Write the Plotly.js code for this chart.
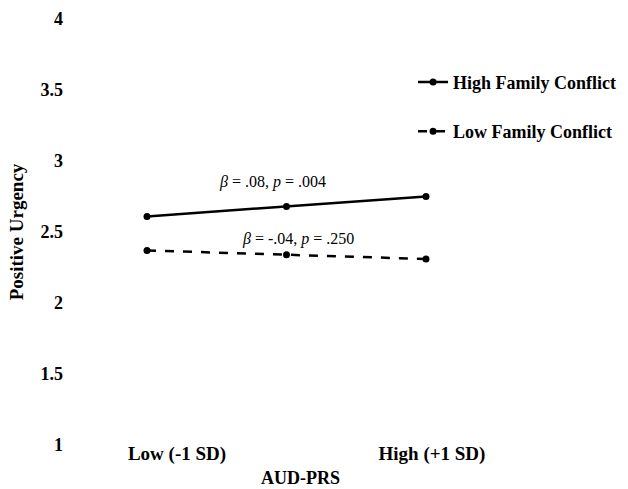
<!DOCTYPE html>
<html>
<head>
<meta charset="utf-8">
<script src="https://cdn.plot.ly/plotly-3.0.1.min.js"></script>
<style>html,body{margin:0;padding:0;background:#fff;}#chart{width:628px;height:489px;}</style>
</head>
<body>
<div id="chart"></div>
<script>
// Data
const xPositions = [0, 1, 2];
const seriesNames = ["High Family Conflict", "Low Family Conflict"];
const highConflict = [2.61, 2.68, 2.75];
const lowConflict = [2.37, 2.34, 2.31];
const xTickVals = [0.215, 2.043];
const xTickText = ["Low (-1 SD)", "High (+1 SD)"];
const yTickVals = [1, 1.5, 2, 2.5, 3, 3.5, 4];
const yTickText = ["1", "1.5", "2", "2.5", "3", "3.5", "4"];
const statLabels = ["<i>β</i> = .08, <i>p</i> = .004", "<i>β</i> = -.04, <i>p</i> = .250"];
const statX = [0.903, 1.082];
const statY = [2.85, 2.45];
const xTitle = "AUD-PRS";
const yTitle = "Positive Urgency";

const serif = "Liberation Serif, Times New Roman, serif";

const traces = [
  {x: xPositions, y: highConflict, name: seriesNames[0], type: "scatter", mode: "lines+markers",
   line: {color: "#000", width: 2.5}, marker: {color: "#000", size: 7}, legendgroup: "a"},
  {x: xPositions, y: lowConflict, name: seriesNames[1], type: "scatter", mode: "lines+markers",
   line: {color: "#000", width: 2.5, dash: "dash"}, marker: {color: "#000", size: 7}, legendgroup: "b"}
];

const layout = {
  width: 628, height: 489,
  margin: {l: 70, r: 2, t: 19, b: 44},
  paper_bgcolor: "#fff", plot_bgcolor: "#fff",
  font: {family: serif, color: "#000000"},
  showlegend: true,
  legend: {x: 0.617, y: 0.895, xanchor: "left", yanchor: "top",
    bgcolor: "rgba(0,0,0,0)",
    font: {family: serif, size: 18, color: "#000", weight: "bold"},
    traceorder: "grouped", tracegroupgap: 23, itemwidth: 30},
  xaxis: {range: [-0.552, 3.434], showgrid: false, zeroline: false, showline: false,
    automargin: false,
    tickmode: "array", tickvals: xTickVals, ticktext: xTickText, ticks: "",
    ticklabelstandoff: -5,
    tickfont: {family: serif, size: 19, color: "#000", weight: "bold"}},
  yaxis: {range: [1, 4], showgrid: false, zeroline: false, showline: false,
    automargin: false,
    tickmode: "array", tickvals: yTickVals, ticktext: yTickText, ticks: "",
    ticklabelstandoff: 6,
    tickfont: {family: serif, size: 18, color: "#000", weight: "bold"},
    title: {text: yTitle, standoff: 11, font: {family: serif, size: 19, color: "#000", weight: "bold"}}},
  annotations: [
    {x: statX[0], y: statY[0], xref: "x", yref: "y", text: statLabels[0], showarrow: false,
     font: {family: serif, size: 16, color: "#000000"}},
    {x: statX[1], y: statY[1], xref: "x", yref: "y", text: statLabels[1], showarrow: false,
     font: {family: serif, size: 16, color: "#000000"}},
    {x: 0.4137, y: -0.0775, xref: "paper", yref: "paper", text: "<b>" + xTitle + "</b>", showarrow: false,
     xanchor: "center", yanchor: "middle",
     font: {family: serif, size: 18, color: "#000000"}}
  ]
};

Plotly.newPlot("chart", traces, layout, {displayModeBar: false, staticPlot: true});
</script>
</body>
</html>
